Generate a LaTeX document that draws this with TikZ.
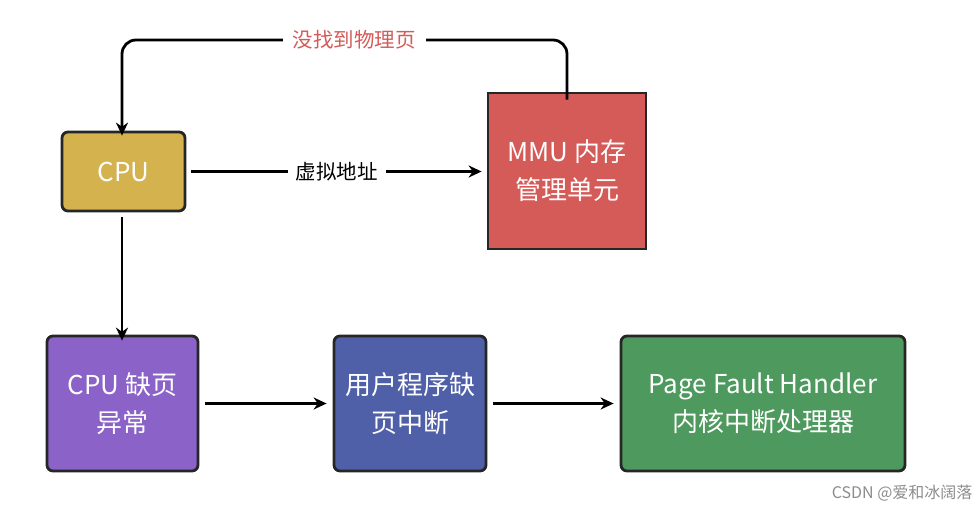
\documentclass[tikz,border=0pt]{standalone}
\usepackage{fontspec}
\setmainfont{Noto Sans CJK SC}
\usetikzlibrary{arrows.meta}
\definecolor{cgold}{HTML}{D4B24E}
\definecolor{cred}{HTML}{D45B58}
\definecolor{cpurple}{HTML}{8A62C8}
\definecolor{cblue}{HTML}{5060A8}
\definecolor{cgreen}{HTML}{4E9A5E}
\begin{document}
\begin{tikzpicture}[x=1pt,y=-1pt,
  box/.style={draw=black!85,line width=2.8pt,text=white,align=center,font=\fontsize{26}{38}\selectfont,inner sep=0pt},
  arr/.style={-{Stealth[length=13pt,width=12pt]},line width=2.8pt,black}]
\useasboundingbox (0,0) rectangle (980,511);
\node[box,fill=cgold,rounded corners=6pt,minimum width=123,minimum height=79] (cpu) at (123.5,171.5) {CPU};
\node[box,fill=cred,minimum width=158,minimum height=156] (mmu) at (567,171) {MMU 内存\\管理单元};
\node[box,fill=cpurple,rounded corners=6pt,minimum width=151,minimum height=135] (exc) at (122.5,403.5) {CPU 缺页\\异常};
\node[box,fill=cblue,rounded corners=6pt,minimum width=152,minimum height=135] (irq) at (410,403.5) {用户程序缺\\页中断};
\node[box,fill=cgreen,rounded corners=6pt,minimum width=284,minimum height=135] (pfh) at (763,403.5) {Page Fault Handler\\内核中断处理器};
\draw[arr] ([xshift=5pt]cpu.east) -- node[fill=white,font=\fontsize{20.5}{24}\selectfont,inner sep=8pt] {虚拟地址} ([xshift=-5pt]mmu.west|-cpu.east);
\draw[arr,rounded corners=14pt] ([yshift=-8pt]mmu.north) -- (567,40) -- (122,40) -- ([yshift=-5pt]cpu.north -| 122,0);
\node[fill=white,text=cred,font=\fontsize{20.5}{24}\selectfont,inner sep=10pt] (lbl) at (354,40) {没找到物理页};
\draw[arr] ([yshift=-5pt]cpu.south -| 122,0) -- ([yshift=-6pt]exc.north -| 122,0);
\draw[arr] ([xshift=6pt]exc.east) -- ([xshift=-6pt]irq.west);
\draw[arr] ([xshift=6pt]irq.east) -- ([xshift=-6pt]pfh.west);
\node[text=black!45,font=\fontsize{16}{18}\selectfont,anchor=east] (wm) at (976,493) {CSDN @爱和冰阔落};
\end{tikzpicture}
\end{document}
